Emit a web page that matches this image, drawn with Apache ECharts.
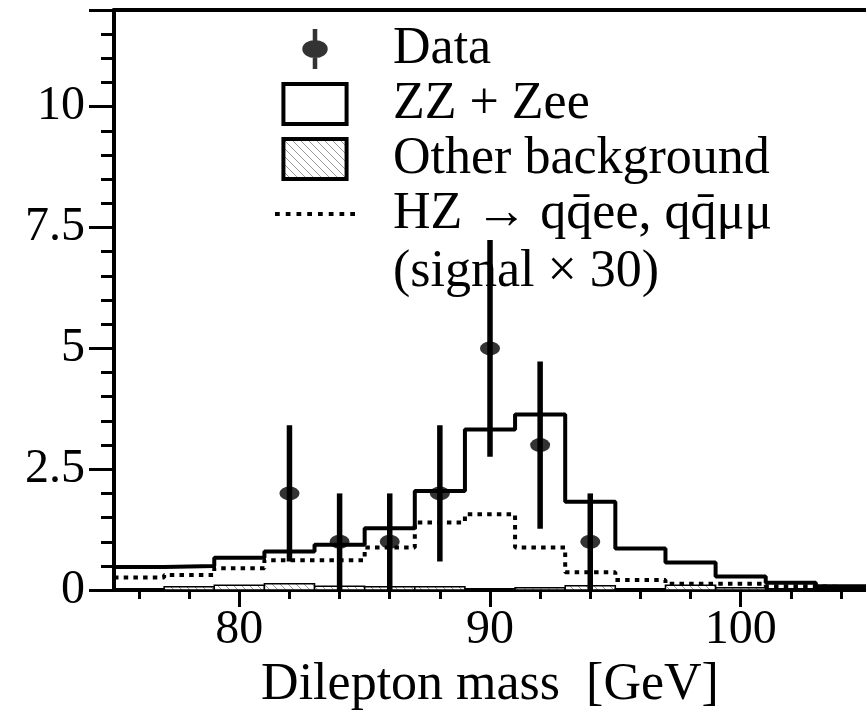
<!DOCTYPE html>
<html>
<head>
<meta charset="utf-8">
<script src="https://cdn.jsdelivr.net/npm/echarts@6/dist/echarts.min.js"></script>
<style>
html,body{margin:0;padding:0;background:#fff;overflow:hidden;}
#chart{width:866px;height:716px;}
</style>
</head>
<body>
<div id="chart"></div>
<script>
// ---- data ----
const binEdges   = [75,77,79,81,83,85,87,89,91,93,95,97,99,101,103,105];
const zzZee      = [0.48,0.50,0.67,0.80,0.94,1.28,2.05,3.32,3.63,1.83,0.86,0.57,0.28,0.15,0.08];
const otherBkg   = [0.02,0.07,0.10,0.13,0.08,0.07,0.07,0.02,0.05,0.09,0.03,0.10,0.05,0.02,0.02];
const signalX30  = [0.26,0.31,0.45,0.62,0.62,0.88,1.40,1.57,0.88,0.37,0.21,0.13,0.13,0.08,0.05];
const dataMass   = [82,84,86,88,90,92,94];
const dataCounts = [2,1,1,2,5,3,1];
const dataErrLow = [0.59,0,0,0.59,2.76,1.27,0];
const dataErrHigh= [3.41,2,2,3.41,7.24,4.73,2];
const xMajorTicks = [80,90,100];
const xMinorTicks = [76,78,82,84,86,88,92,94,96,98,102,104];
const yTickLabels = [0,2.5,5,7.5,10];
const yMajorTicks = [0,2.5,5,7.5,10,12];
const yMinorTicks = [0.5,1,1.5,2,3,3.5,4,4.5,5.5,6,6.5,7,8,8.5,9,9.5,10.5,11,11.5];
const legendNames = ['Data','ZZ + Zee','Other background','HZ \u2192 qq\u0304ee, qq\u0304\u03bc\u03bc'];
const legendNote  = '(signal \u00d7 30)';
const xTitle = 'Dilepton mass  [GeV]';

// ---- helpers ----
function stepPoints(vals){
  const pts = binEdges.slice(0, vals.length).map((e,i)=>[e, vals[i]]);
  pts.push([binEdges[vals.length], vals[vals.length-1]]);
  return pts;
}
const hatch = document.createElement('canvas');
hatch.width = 8; hatch.height = 8;
(function(){
  const c = hatch.getContext('2d');
  c.fillStyle = '#ffffff'; c.fillRect(0,0,8,8);
  c.strokeStyle = '#9a9a9a'; c.lineWidth = 1;
  c.beginPath();
  c.moveTo(0,0); c.lineTo(8,8);
  c.moveTo(-4,4); c.lineTo(4,12);
  c.moveTo(4,-4); c.lineTo(12,4);
  c.stroke();
})();
const hatchFill = {image: hatch, repeat: 'repeat'};

// dotted-line legend icon (8 dots of a 4px-thick dotted line)
let dotPath = 'path://';
for (let k = 0; k < 8; k++) {
  const x0 = (k * 10.2).toFixed(1);
  dotPath += 'M' + x0 + ',0h4.5v4h-4.5Z ';
}

const FONT = 'Liberation Serif';
const chart = echarts.init(document.getElementById('chart'), null, {renderer:'canvas'});

const otherData = otherBkg.map((v,i)=>[binEdges[i], binEdges[i+1], v]);
const errData = dataMass.map((m,i)=>[m, dataErrLow[i], dataErrHigh[i]]);

chart.setOption({
  animation: false,
  backgroundColor: '#fff',
  grid: {left:114, top:10, width:756, height:587, containLabel:false},
  title: {
    text: legendNote, left: 393, top: 246, padding: 0,
    textStyle: {fontFamily: FONT, fontSize: 52, fontWeight: 'normal', color: '#000', lineHeight: 52}
  },
  legend: {
    orient: 'vertical', left: 275, top: 23, padding: 0,
    itemWidth: 80, itemHeight: 40, itemGap: 3,
    selectedMode: false,
    textStyle: {fontFamily: FONT, fontSize: 52, color: '#000', lineHeight: 52, padding: [0,0,0,33]},
    data: [
      {name: legendNames[0], icon: 'path://M11.5,0H16.5V44H11.5Z M0,22A14,10 0 1,1 28,22A14,10 0 1,1 0,22Z',
        itemStyle: {color:'#000', borderWidth:0}},
      {name: legendNames[1], icon: 'path://M0,0H60V38H0Z',
        itemStyle: {color:'#fff', borderColor:'#000', borderWidth:4}},
      {name: legendNames[2], icon: 'path://M0,0H60V38H0Z',
        itemStyle: {color: hatchFill, borderColor:'#000', borderWidth:4}},
      {name: legendNames[3], icon: dotPath,
        itemStyle: {color:'#000', borderWidth:0}}
    ]
  },
  xAxis: [
    {
      type:'value', min: binEdges[0], max: binEdges[binEdges.length-1], position:'bottom',
      axisLine:{show:true, onZero:false, lineStyle:{color:'#000', width:4}},
      axisTick:{show:true, customValues: xMajorTicks, length:17, lineStyle:{color:'#000', width:3}},
      axisLabel:{show:true, customValues: xMajorTicks, color:'#000', fontFamily:FONT, fontSize:48, margin:16},
      splitLine:{show:false},
      name: xTitle, nameLocation:'middle', nameGap:66,
      nameTextStyle:{fontFamily:FONT, fontSize:52, color:'#000'}
    },
    {
      type:'value', min: binEdges[0], max: binEdges[binEdges.length-1], position:'bottom',
      axisLine:{show:false},
      axisTick:{show:true, customValues: xMinorTicks, length:9, lineStyle:{color:'#000', width:3}},
      axisLabel:{show:false}, splitLine:{show:false}
    },
    {
      type:'value', min: binEdges[0], max: binEdges[binEdges.length-1], position:'top',
      axisLine:{show:true, onZero:false, lineStyle:{color:'#000', width:4}},
      axisTick:{show:false}, axisLabel:{show:false}, splitLine:{show:false}
    }
  ],
  yAxis: [
    {
      type:'value', min:0, max:12, position:'left',
      axisLine:{show:true, onZero:false, lineStyle:{color:'#000', width:4}},
      axisTick:{show:true, customValues: yMajorTicks, length:25, lineStyle:{color:'#000', width:3}},
      axisLabel:{show:true, customValues: yTickLabels, color:'#000', fontFamily:FONT, fontSize:48, margin:29},
      splitLine:{show:false}
    },
    {
      type:'value', min:0, max:12, position:'left',
      axisLine:{show:false},
      axisTick:{show:true, customValues: yMinorTicks, length:13, lineStyle:{color:'#000', width:3}},
      axisLabel:{show:false}, splitLine:{show:false}
    }
  ],
  series: [
    {
      name: legendNames[2], type:'custom', xAxisIndex:0, yAxisIndex:0, z:2,
      data: otherData,
      encode: {x:[0,1], y:2},
      itemStyle: {color: hatchFill, borderColor:'#000', borderWidth:1.5},
      renderItem: function(params, api){
        const p1 = api.coord([api.value(0), api.value(2)]);
        const p2 = api.coord([api.value(1), 0]);
        return {
          type:'rect',
          shape:{x:p1[0], y:p1[1], width:p2[0]-p1[0], height:p2[1]-p1[1]},
          style:{fill: hatchFill, stroke:'#000', lineWidth:1.5}
        };
      }
    },
    {
      name: legendNames[1], type:'line', step:'end', xAxisIndex:0, yAxisIndex:0, z:3,
      data: stepPoints(zzZee), symbol:'none', showSymbol:false,
      lineStyle:{color:'#000', width:4}, itemStyle:{color:'#000'}
    },
    {
      name: legendNames[3], type:'line', step:'end', xAxisIndex:0, yAxisIndex:0, z:3,
      data: stepPoints(signalX30), symbol:'none', showSymbol:false,
      lineStyle:{color:'#000', width:4, type:[4.5,5.2], cap:'butt'}, itemStyle:{color:'#000'}
    },
    {
      name: 'Data errors', type:'custom', xAxisIndex:0, yAxisIndex:0, z:4,
      data: errData, encode:{x:0, y:[1,2]},
      renderItem: function(params, api){
        const a = api.coord([api.value(0), api.value(1)]);
        const b = api.coord([api.value(0), api.value(2)]);
        return {type:'line', shape:{x1:a[0], y1:a[1], x2:b[0], y2:b[1]},
                style:{stroke:'#000', lineWidth:5.5}};
      }
    },
    {
      name: legendNames[0], type:'scatter', xAxisIndex:0, yAxisIndex:0, z:5,
      data: dataMass.map((m,i)=>[m, dataCounts[i]]),
      symbol:'circle', symbolSize:[20,14], itemStyle:{color:'#000'}
    }
  ]
});
</script>
</body>
</html>
